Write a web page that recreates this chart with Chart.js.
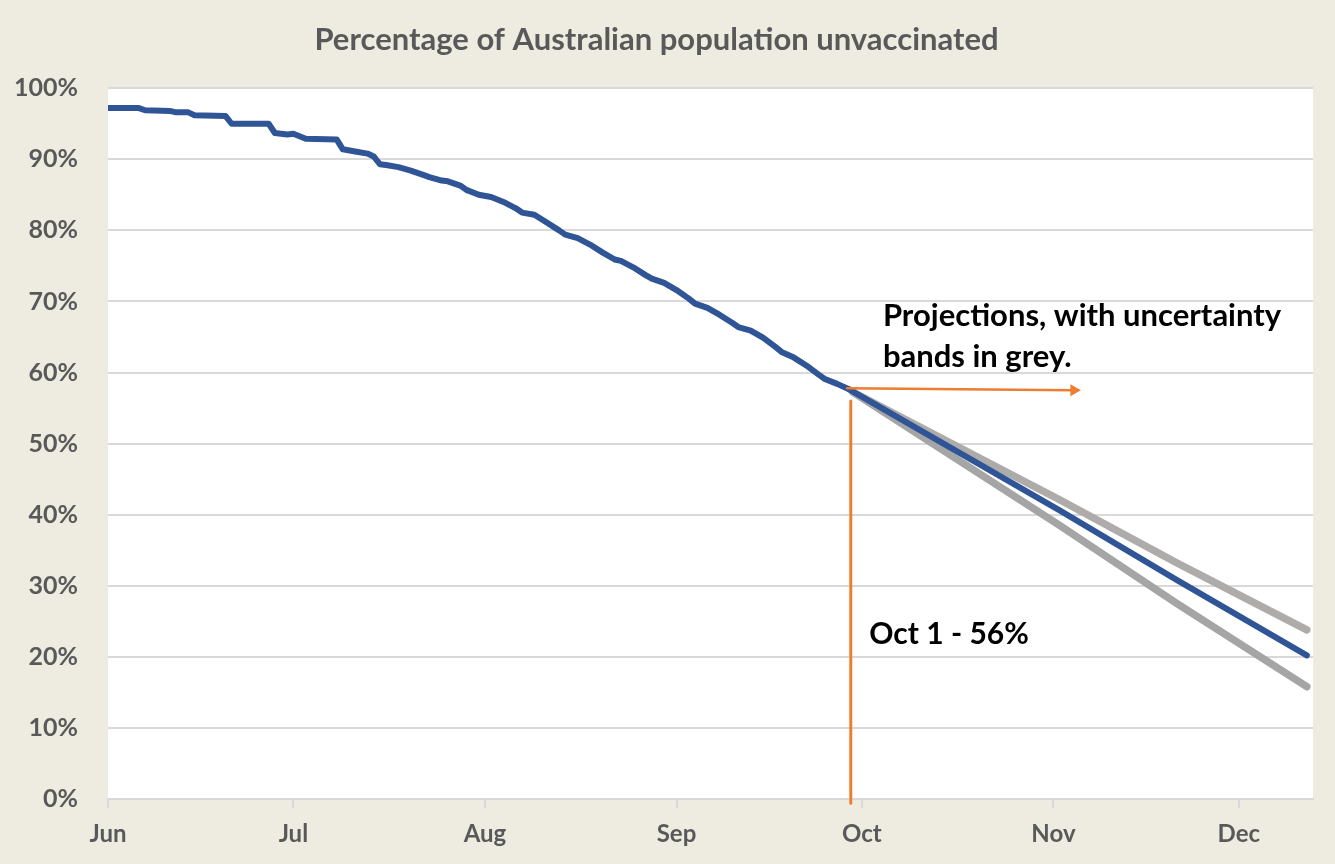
<!DOCTYPE html>
<html>
<head>
<meta charset="utf-8">
<script src="https://cdn.jsdelivr.net/npm/chart.js@4.4.1/dist/chart.umd.min.js"></script>
<style>
body { margin: 0; background: #EEECE1; }
</style>
</head>
<body>
<canvas id="grafico" width="1335" height="864"></canvas>
<script>
// days counted from 1 June
let monthDays = [0, 30, 61, 92, 122, 153, 183]
let monthLabels = ['Jun', 'Jul', 'Aug', 'Sep', 'Oct', 'Nov', 'Dec']

let histDays = [0,5,6,10,11,13,14,19,20,26,27,29,30,32,37,38,40,42,43,44,45,47,49,51,52,54,55,57,58,60,62,64,66,67,69,71,73,74,76,78,80,82,83,85,87,88,90,92,94,95,97,99,101,102,104,106,108,109,111,113,115,116,118,120]
let histValues = [97.2,97.2,96.9,96.8,96.6,96.6,96.2,96.1,95.0,95.0,93.7,93.5,93.6,92.9,92.8,91.4,91.1,90.8,90.4,89.3,89.2,88.9,88.4,87.8,87.5,87.0,86.9,86.3,85.7,85.0,84.7,84.0,83.1,82.5,82.2,81.1,80.0,79.4,78.9,78.0,76.9,75.9,75.7,74.8,73.7,73.2,72.6,71.6,70.4,69.7,69.1,68.1,67.0,66.4,65.9,64.9,63.6,62.9,62.1,61.0,59.7,59.1,58.4,57.6]

let projDays = [120, 154, 173, 194]
let projCentral = [57.6, 40.6, 30.8, 20.2]
let bandDays = [120.6, 154, 173, 194]
let bandUpper = [57.2, 42.1, 33.2, 23.8]
let bandLower = [57.2, 38.5, 27.5, 15.8]

let arrowDays = [119.6, 156.3]
let arrowValues = [57.8, 57.5]
let markerDays = [120.2, 120.2]
let markerValues = [56.0, -0.6]

const azul = '#2F5597'
const laranja = '#ED7D31'
const texto = '#595959'
const fonte = 'Lato, "Open Sans", sans-serif'

function pontos(xs, ys) {
    return xs.map((x, i) => ({ x: x, y: ys[i] }))
}

const fundo = {
    id: 'fundo',
    beforeDraw(chart) {
        let ctx = chart.ctx
        let a = chart.chartArea
        ctx.save()
        ctx.fillStyle = '#EEECE1'
        ctx.fillRect(0, 0, chart.width, chart.height)
        ctx.fillStyle = '#FFFFFF'
        ctx.fillRect(a.left, a.top, a.right - a.left, a.bottom - a.top)
        ctx.restore()
    }
}

const notas = {
    id: 'notas',
    afterDatasetsDraw(chart) {
        let ctx = chart.ctx
        let x = chart.scales.x
        let y = chart.scales.y
        ctx.save()
        ctx.fillStyle = '#000000'
        ctx.font = 'bold 31px ' + fonte
        ctx.textBaseline = 'middle'
        ctx.textAlign = 'left'
        ctx.fillText('Projections, with uncertainty', x.getPixelForValue(125.4), y.getPixelForValue(67.9))
        ctx.fillText('bands in grey.', x.getPixelForValue(125.4), y.getPixelForValue(62.2))
        ctx.font = 'bold 30px ' + fonte
        ctx.fillText('Oct 1 - 56%', x.getPixelForValue(123.2), y.getPixelForValue(23.1))
        ctx.restore()
    }
}

var ctx = document.getElementById('grafico').getContext('2d')
var grafico = new Chart(ctx, {
    type: 'line',
    data: {
        datasets: [
            {
                data: pontos(arrowDays, arrowValues),
                borderColor: laranja,
                backgroundColor: laranja,
                borderWidth: 2.5,
                pointStyle: 'triangle',
                pointRadius: [0, 7],
                rotation: 90,
                pointBorderWidth: 0
            },
            {
                data: pontos(markerDays, markerValues),
                borderColor: laranja,
                borderWidth: 3,
                pointRadius: 0,
                clip: false
            },
            {
                data: pontos(histDays, histValues),
                borderColor: azul,
                borderWidth: 6,
                pointRadius: 0
            },
            {
                data: pontos(projDays, projCentral),
                borderColor: azul,
                borderWidth: 6,
                pointRadius: 0
            },
            {
                data: pontos(bandDays, bandUpper),
                borderColor: '#AEABAB',
                borderWidth: 7.5,
                pointRadius: 0
            },
            {
                data: pontos(bandDays, bandLower),
                borderColor: '#A5A5A5',
                borderWidth: 7.5,
                pointRadius: 0
            }
        ]
    },
    options: {
        responsive: false,
        animation: false,
        elements: {
            line: { tension: 0, borderCapStyle: 'round', borderJoinStyle: 'round' }
        },
        layout: { padding: { left: 0, right: 22, top: 0, bottom: 0 } },
        plugins: {
            legend: { display: false },
            tooltip: { enabled: false },
            title: {
                display: true,
                text: 'Percentage of Australian population unvaccinated',
                color: texto,
                font: { family: fonte, size: 31, weight: 'bold' },
                padding: { top: 21, bottom: 30 }
            }
        },
        scales: {
            x: {
                type: 'linear',
                min: 0,
                max: 195,
                afterBuildTicks: (scale) => {
                    scale.ticks = monthDays.map(v => ({ value: v }))
                },
                afterFit: (scale) => { scale.height = 65 },
                ticks: {
                    color: texto,
                    font: { family: fonte, size: 24, weight: 'bold' },
                    padding: 12,
                    maxRotation: 0,
                    autoSkip: false,
                    callback: (v) => monthLabels[monthDays.indexOf(v)]
                },
                grid: {
                    drawOnChartArea: false,
                    drawTicks: true,
                    tickLength: 9,
                    color: '#D9D9D9',
                    lineWidth: 2
                },
                border: { color: '#D9D9D9', width: 2 }
            },
            y: {
                min: 0,
                max: 100,
                afterFit: (scale) => { scale.width = 108 },
                ticks: {
                    stepSize: 10,
                    color: texto,
                    font: { family: fonte, size: 25, weight: 'bold' },
                    padding: 30,
                    callback: (v) => v + '%'
                },
                grid: {
                    drawTicks: false,
                    color: '#D9D9D9',
                    lineWidth: 2
                },
                border: { display: false }
            }
        }
    },
    plugins: [fundo, notas]
})
</script>
</body>
</html>
